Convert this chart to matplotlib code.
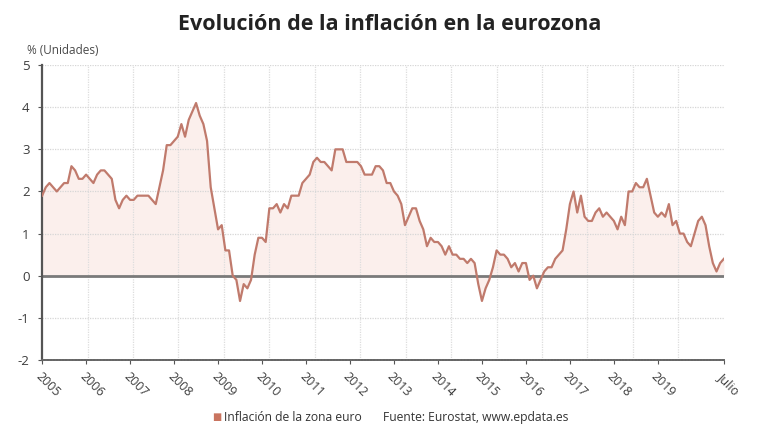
import numpy as np
import matplotlib
matplotlib.use('Agg')
import matplotlib.pyplot as plt
from matplotlib.ticker import FixedLocator

plt.rcParams['font.family'] = ['Open Sans', 'DejaVu Sans']

# Inflación interanual zona euro (%), mensual ene-2005 a jul-2020
inflacion = [
    1.9, 2.1, 2.2, 2.1, 2.0, 2.1, 2.2, 2.2, 2.6, 2.5, 2.3, 2.3,   # 2005
    2.4, 2.3, 2.2, 2.4, 2.5, 2.5, 2.4, 2.3, 1.8, 1.6, 1.8, 1.9,   # 2006
    1.8, 1.8, 1.9, 1.9, 1.9, 1.9, 1.8, 1.7, 2.1, 2.5, 3.1, 3.1,   # 2007
    3.2, 3.3, 3.6, 3.3, 3.7, 3.9, 4.1, 3.8, 3.6, 3.2, 2.1, 1.6,   # 2008
    1.1, 1.2, 0.6, 0.6, 0.0, -0.1, -0.6, -0.2, -0.3, -0.1, 0.5, 0.9,   # 2009
    0.9, 0.8, 1.6, 1.6, 1.7, 1.5, 1.7, 1.6, 1.9, 1.9, 1.9, 2.2,   # 2010
    2.3, 2.4, 2.7, 2.8, 2.7, 2.7, 2.6, 2.5, 3.0, 3.0, 3.0, 2.7,   # 2011
    2.7, 2.7, 2.7, 2.6, 2.4, 2.4, 2.4, 2.6, 2.6, 2.5, 2.2, 2.2,   # 2012
    2.0, 1.9, 1.7, 1.2, 1.4, 1.6, 1.6, 1.3, 1.1, 0.7, 0.9, 0.8,   # 2013
    0.8, 0.7, 0.5, 0.7, 0.5, 0.5, 0.4, 0.4, 0.3, 0.4, 0.3, -0.2,   # 2014
    -0.6, -0.3, -0.1, 0.2, 0.6, 0.5, 0.5, 0.4, 0.2, 0.3, 0.1, 0.3,   # 2015
    0.3, -0.1, 0.0, -0.3, -0.1, 0.1, 0.2, 0.2, 0.4, 0.5, 0.6, 1.1,   # 2016
    1.7, 2.0, 1.5, 1.9, 1.4, 1.3, 1.3, 1.5, 1.6, 1.4, 1.5, 1.4,   # 2017
    1.3, 1.1, 1.4, 1.2, 2.0, 2.0, 2.2, 2.1, 2.1, 2.3, 1.9, 1.5,   # 2018
    1.4, 1.5, 1.4, 1.7, 1.2, 1.3, 1.0, 1.0, 0.8, 0.7, 1.0, 1.3,   # 2019
    1.4, 1.2, 0.7, 0.3, 0.1, 0.3, 0.4,                            # 2020
]
anio_inicio = 2005
etiquetas_x = [str(a) for a in range(2005, 2020)] + ['Julio']
ticks_y = [-2, -1, 0, 1, 2, 3, 4, 5]

color_linea = '#c07a6c'
color_relleno = '#fbefec'
color_texto = '#3c3c3c'

t = anio_inicio + np.arange(len(inflacion)) / 12.0
y = np.array(inflacion)

fig = plt.figure(figsize=(7.8, 4.4), dpi=100)
ax = fig.add_axes([0.054, 0.182, 0.874, 0.670])

ax.fill_between(t, y, 0, color=color_relleno, zorder=1, linewidth=0)
ax.plot(t, y, color=color_linea, linewidth=1.6, zorder=3)
ax.axhline(0, color='#7a7a7a', linewidth=2, zorder=2)

ax.set_xlim(t[0], t[-1])
ax.set_ylim(-2, 5)

# ticks on each January plus the last month
xticks = list(range(2005, 2020)) + [t[-1]]
ax.set_xticks(xticks)
ax.set_xticklabels(etiquetas_x, rotation=-45, ha='left', va='top',
                   rotation_mode='anchor', fontsize=9, color=color_texto)
ax.set_yticks(ticks_y)
ax.set_yticklabels([str(v) for v in ticks_y], fontsize=9.5, color=color_texto)

# vertical grid split evenly across the axis
ax.xaxis.set_minor_locator(FixedLocator(np.linspace(t[0], t[-1], 16)))
ax.grid(axis='x', which='minor', color='#dddddd', linestyle=(0, (1, 1)), linewidth=0.9)
ax.grid(axis='y', which='major', color='#d6d6d6', linestyle=(0, (1, 1)), linewidth=0.9)
ax.tick_params(axis='x', which='minor', length=0)
ax.tick_params(axis='x', which='major', length=3, color='#555555', pad=4)
ax.tick_params(axis='y', length=3, color='#555555', pad=6)

for s in ['top', 'right']:
    ax.spines[s].set_visible(False)
ax.spines['left'].set_color('#555555')
ax.spines['left'].set_linewidth(1.6)
ax.spines['bottom'].set_color('#666666')
ax.spines['bottom'].set_linewidth(1.4)
ax.spines['bottom'].set_linestyle((0, (1, 0.6)))

fig.text(0.5, 0.945, 'Evolución de la inflación en la eurozona', ha='center', va='center',
         fontsize=15.5, fontweight='bold', color='#222222')
fig.text(0.034, 0.886, '% (Unidades)', ha='left', va='center', fontsize=8.5, color='#4a4a4a')

# pie: leyenda y fuente
fig.text(0.272, 0.052, '\u25a0', ha='left', va='center', fontsize=7, color='#c9745f')
fig.text(0.287, 0.052, 'Inflación de la zona euro', ha='left', va='center', fontsize=8.7, color='#333333')
fig.text(0.491, 0.052, 'Fuente: Eurostat, www.epdata.es', ha='left', va='center', fontsize=8.7, color='#333333')

fig.savefig('out.png', dpi=100, facecolor='white')
